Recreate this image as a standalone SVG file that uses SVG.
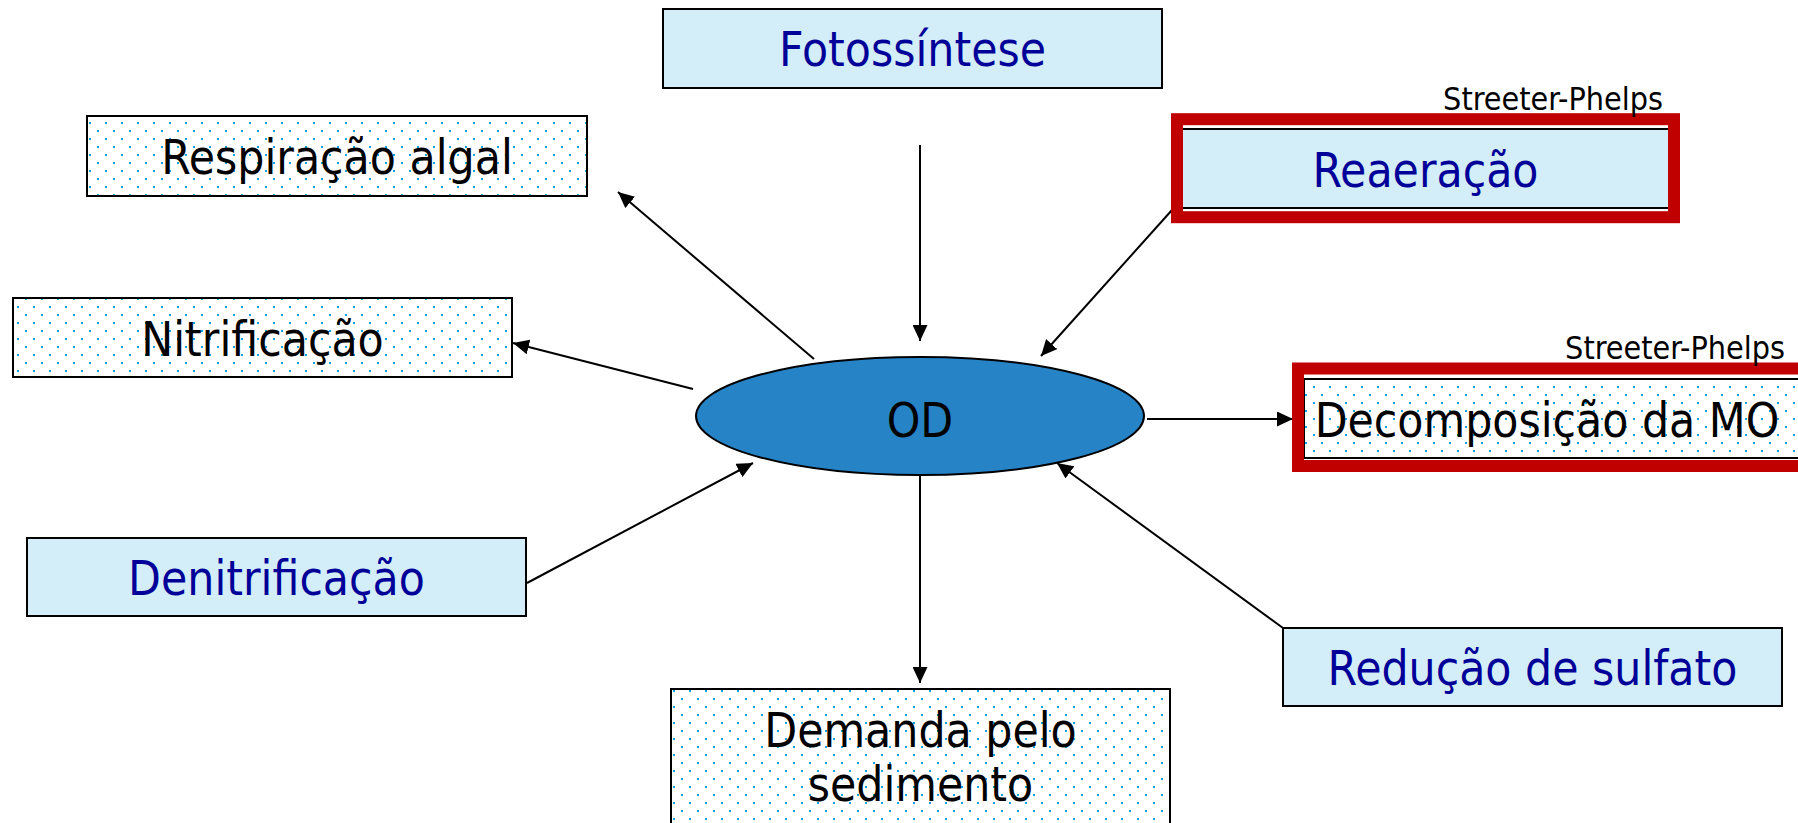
<svg xmlns="http://www.w3.org/2000/svg" width="1798" height="823" viewBox="0 0 1798 823">
<defs>
<pattern id="dots" width="16" height="16" patternUnits="userSpaceOnUse" x="1" y="2">
<rect width="16" height="16" fill="#ffffff"/>
<rect x="0" y="0" width="2" height="2" fill="#12a2dc"/>
<rect x="8" y="8" width="2" height="2" fill="#12a2dc"/>
</pattern>
<marker id="ah" markerUnits="userSpaceOnUse" markerWidth="16" markerHeight="15" refX="16" refY="7.5" orient="auto">
<path d="M0,0 L16,7.5 L0,15 Z" fill="#000"/>
</marker>
</defs>
<style>
.box{stroke:#000;stroke-width:2}
.blue{fill:#d3eef9}
.dot{fill:url(#dots)}
.t{font-family:"DejaVu Sans Condensed","DejaVu Sans",sans-serif;font-stretch:condensed;font-size:47.5px;text-anchor:middle}
.tb{fill:#000099}
.tk{fill:#000}
.sp{font-family:"DejaVu Sans Condensed","DejaVu Sans",sans-serif;font-stretch:condensed;font-size:32px;text-anchor:end;fill:#000}
.red{fill:none;stroke:#c00000;stroke-width:12}
.c{stroke:#000;stroke-width:2;fill:none;marker-end:url(#ah)}
</style>
<rect width="1798" height="823" fill="#fff"/>

<g id="connectors">
<line class="c" x1="920" y1="145" x2="920" y2="341"/>
<line class="c" x1="814" y1="359" x2="618" y2="192"/>
<line class="c" x1="693" y1="389" x2="513" y2="343"/>
<line class="c" x1="527" y1="583" x2="753" y2="463"/>
<line class="c" x1="920" y1="475" x2="920" y2="683"/>
<line class="c" x1="1172" y1="210" x2="1041" y2="356"/>
<line class="c" x1="1147" y1="419" x2="1293" y2="419"/>
<line class="c" x1="1283" y1="628" x2="1057" y2="463"/>
</g>

<g id="fotossintese">
<rect class="box blue" x="663" y="9" width="499" height="79"/>
<text class="t tb" x="912.5" y="66">Fotossíntese</text>
</g>

<g id="respiracao">
<rect class="box dot" x="87" y="116" width="500" height="80"/>
<text class="t tk" x="337" y="174">Respiração algal</text>
</g>

<g id="nitrificacao">
<rect class="box dot" x="13" y="298" width="499" height="79"/>
<text class="t tk" x="262.5" y="356">Nitrificação</text>
</g>

<g id="denitrificacao">
<rect class="box blue" x="27" y="538" width="499" height="78"/>
<text class="t tb" x="276.5" y="595">Denitrificação</text>
</g>

<g id="od">
<ellipse cx="920" cy="416" rx="224" ry="59" fill="#2683c6" stroke="#000" stroke-width="2"/>
<text class="t tk" x="920" y="437">OD</text>
</g>

<g id="demanda">
<rect class="box dot" x="671" y="689" width="499" height="200"/>
<text class="t tk" x="920.5" y="747">Demanda pelo</text>
<text class="t tk" x="920.5" y="801">sedimento</text>
</g>

<g id="reducao">
<rect class="box blue" x="1283" y="628" width="499" height="78"/>
<text class="t tb" x="1532.5" y="685">Redução de sulfato</text>
</g>

<g id="reaeracao">
<rect class="box blue" x="1176" y="129" width="499" height="79"/>
<rect class="red" x="1177" y="119.2" width="497" height="98"/>
<text class="t tb" x="1425.5" y="186.5">Reaeração</text>
<text class="sp" x="1663" y="110">Streeter-Phelps</text>
</g>

<g id="decomposicao">
<rect class="box dot" x="1304" y="379" width="520" height="79"/>
<rect class="red" x="1298" y="368.5" width="520" height="97.5"/>
<text class="t tk" x="1547" y="436.5">Decomposição da MO</text>
<text class="sp" x="1785" y="359">Streeter-Phelps</text>
</g>
</svg>
